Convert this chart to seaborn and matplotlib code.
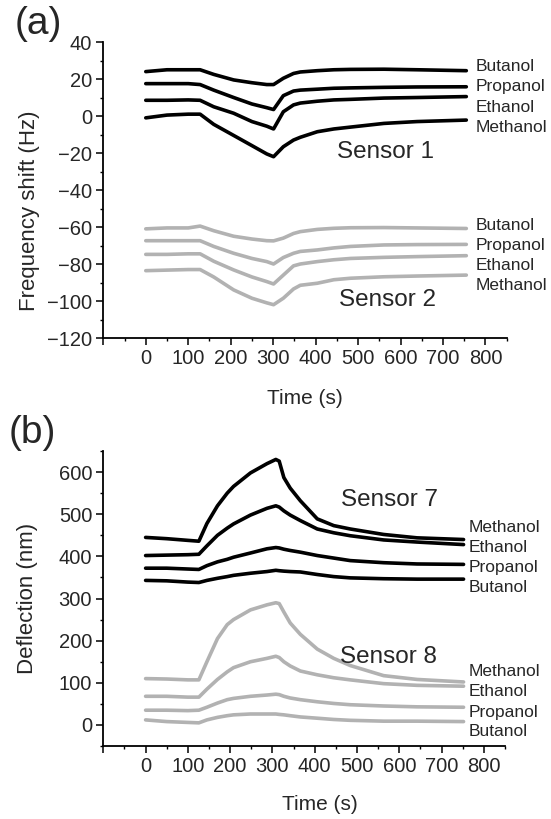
import numpy as np
import pandas as pd
import seaborn as sns
import matplotlib.pyplot as plt
from matplotlib.ticker import MultipleLocator, FixedLocator, FixedFormatter

sns.set_style("ticks")
plt.rcParams['font.family'] = ['Liberation Sans', 'DejaVu Sans']

# ---- data (a): QCM frequency shift, Hz ----
time_a = [0, 50, 100, 128, 160, 207, 250, 285, 301, 324, 348, 364, 404, 443, 482, 561, 639, 755]
s1_butanol = [24, 25, 25, 25, 22.5, 19.5, 18, 17, 17, 20.4, 23, 23.8, 24.5, 25, 25.2, 25.3, 25, 24.5]
s1_propanol = [17.5, 17.5, 17.5, 17, 14, 10, 6.5, 4.5, 3.5, 11, 13.5, 14, 14.5, 15, 15.2, 15.5, 15.7, 15.8]
s1_ethanol = [8.5, 8.5, 8.7, 8.5, 5, 1.5, -3, -5.5, -7, 2.3, 6, 7, 8, 8.7, 9, 9.7, 10, 10.5]
s1_methanol = [-1, 0.5, 1, 1, -4.5, -10.5, -16, -20.5, -22, -16.6, -13, -11.5, -8.5, -7, -6, -4, -3, -2.2]
s2_butanol = [-61, -60.5, -60.5, -59.5, -62, -65, -66.5, -67.4, -67.5, -66, -63.5, -62.5, -61.3, -60.7, -60.4, -60.3, -60.5, -60.8]
s2_propanol = [-67.4, -67.4, -67.4, -67.4, -70.5, -74.2, -77, -78.7, -80, -76.5, -74.2, -73.2, -72.4, -71.3, -70.5, -69.7, -69.5, -69.4]
s2_ethanol = [-74.8, -74.8, -74.5, -74.5, -78.5, -83.2, -87, -89.5, -90.8, -86, -81, -80, -78.7, -77.7, -77, -76.4, -76, -75.5]
s2_methanol = [-83.6, -83.3, -83, -83, -87, -94, -98.5, -101, -102, -98.5, -93.5, -91.5, -90.4, -88.5, -87.7, -86.9, -86.5, -86]

# ---- data (b): cantilever deflection, nm ----
time_b = [0, 50, 100, 126, 145, 170, 193, 208, 248, 287, 308, 316, 327, 342, 366, 406, 445, 484, 563, 642, 752]
s7_methanol = [445, 442, 438, 436, 478, 520, 550, 566, 598, 620, 630, 626, 587, 562, 532, 489, 473, 465, 452, 444, 440]
s7_ethanol = [402, 403, 404, 405, 425, 450, 467, 477, 498, 514, 520, 517, 508, 498, 485, 465, 456, 449, 439, 434, 428]
s7_propanol = [372, 372, 370, 369, 378, 387, 393, 398, 408, 418, 421, 420, 417, 414, 410, 402, 396, 390, 385, 382, 381]
s7_butanol = [343, 342, 339, 338, 343, 348, 352, 355, 360, 364, 367, 366, 365, 364, 363, 357, 352, 349, 347, 346, 346]
s8_methanol = [110, 109, 107, 107, 150, 205, 238, 250, 273, 285, 290, 288, 268, 242, 215, 180, 158, 141, 117, 108, 102]
s8_ethanol = [68, 68, 66, 66, 85, 108, 126, 136, 150, 158, 163, 160, 150, 140, 128, 119, 112, 107, 98, 94, 92]
s8_propanol = [35, 35, 34, 35, 42, 52, 60, 63, 68, 71, 73, 72, 68, 64, 60, 55, 51, 48, 45, 43, 42]
s8_butanol = [12, 8, 6, 5, 12, 18, 22, 24, 26, 26, 26, 25, 24, 22, 19, 16, 13, 11, 9, 9, 8]

solvents = ['Butanol', 'Propanol', 'Ethanol', 'Methanol']
gray = '#b2b2b2'

fig = plt.figure(figsize=(5.51, 8.19), dpi=100)
ax1 = fig.add_axes([0.1875, 0.5873, 0.732, 0.3614])
ax2 = fig.add_axes([0.1875, 0.0891, 0.729, 0.3602])

# panel (a)
for ys in [s1_butanol, s1_propanol, s1_ethanol, s1_methanol]:
    sns.lineplot(x=time_a, y=ys, ax=ax1, color='black', lw=2.6)
for ys in [s2_butanol, s2_propanol, s2_ethanol, s2_methanol]:
    sns.lineplot(x=time_a, y=ys, ax=ax1, color=gray, lw=2.6)

# panel (b)
for ys in [s7_methanol, s7_ethanol, s7_propanol, s7_butanol]:
    sns.lineplot(x=time_b, y=ys, ax=ax2, color='black', lw=2.6)
for ys in [s8_methanol, s8_ethanol, s8_propanol, s8_butanol]:
    sns.lineplot(x=time_b, y=ys, ax=ax2, color=gray, lw=2.6)

xt = list(range(-100, 900, 100))
xl = [''] + [str(v) for v in range(0, 900, 100)]
for ax in [ax1, ax2]:
    ax.set_xlim(-100, 850)
    ax.xaxis.set_major_locator(FixedLocator(xt))
    ax.xaxis.set_major_formatter(FixedFormatter(xl))
    ax.xaxis.set_minor_locator(MultipleLocator(50))
    sns.despine(ax=ax)
    for sp in ['left', 'bottom']:
        ax.spines[sp].set_linewidth(1.3)
        ax.spines[sp].set_color('black')
    ax.tick_params(which='major', length=5, width=1.1, labelsize=14.5, color='black', pad=3)
    ax.tick_params(which='minor', length=2.5, width=1.0, color='black')
    ax.set_xlabel('Time (s)', fontsize=15)

ax1.set_ylim(-120, 40)
ax1.yaxis.set_major_locator(MultipleLocator(20))
ax1.yaxis.set_minor_locator(MultipleLocator(10))
ax1.set_ylabel('Frequency shift (Hz)', fontsize=16)
ax1.yaxis.set_label_coords(-0.156, 0.43)
ax1.xaxis.set_label_coords(0.5, -0.172)

ax2.set_ylim(-50, 650)
ax2.set_yticks(range(0, 700, 100))
ax2.yaxis.set_minor_locator(MultipleLocator(50))
ax2.set_ylabel('Deflection (nm)', fontsize=16)
ax2.yaxis.set_label_coords(-0.162, 0.5)
ax2.xaxis.set_label_coords(0.54, -0.166)

# curve labels
for name, yv in zip(solvents, [26.6, 15.8, 4.4, -6.4]):
    ax1.text(777, yv, name, fontsize=12.5, va='center', ha='left', clip_on=False)
for name, yv in zip(solvents, [-59, -69.9, -80.7, -91.5]):
    ax1.text(777, yv, name, fontsize=12.5, va='center', ha='left', clip_on=False)
ax1.text(565, -19.4, 'Sensor 1', fontsize=17.5, ha='center', va='center')
ax1.text(569, -99.5, 'Sensor 2', fontsize=17.5, ha='center', va='center')

for name, yv in zip(solvents[::-1], [467.5, 420, 373, 326]):
    ax2.text(764, yv, name, fontsize=12.5, va='center', ha='left', clip_on=False)
for name, yv in zip(solvents[::-1], [127.5, 80, 30.7, -16.5]):
    ax2.text(764, yv, name, fontsize=12.5, va='center', ha='left', clip_on=False)
ax2.text(577, 533.6, 'Sensor 7', fontsize=17.5, ha='center', va='center')
ax2.text(574, 160.6, 'Sensor 8', fontsize=17.5, ha='center', va='center')

fig.text(0.069, 0.971, '(a)', fontsize=28, ha='center', va='center')
fig.text(0.058, 0.471, '(b)', fontsize=28, ha='center', va='center')

fig.savefig('out.png', dpi=100)
